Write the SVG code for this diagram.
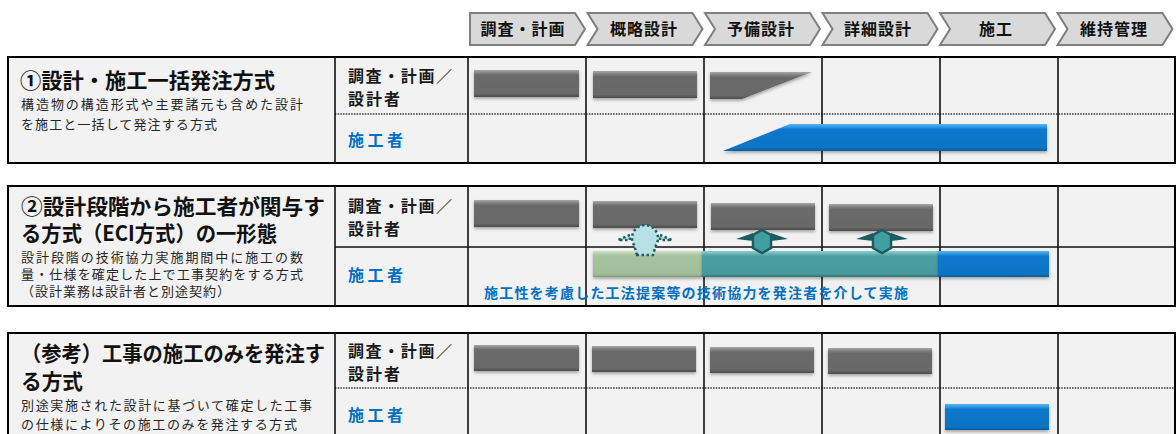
<svg xmlns="http://www.w3.org/2000/svg" width="1176" height="434" viewBox="0 0 1176 434">
<defs>
<style>
.jp{font-family:"Noto Sans CJK JP","Noto Sans CJK SC",sans-serif}
.hd{font-size:16px;font-weight:bold;fill:#111;letter-spacing:1px}
.tt{font-size:21px;font-weight:bold;fill:#111}
.ds{font-size:13px;fill:#262626}
.lb{font-size:16px;font-weight:bold;fill:#1a1a1a}
.bl{font-size:16px;font-weight:bold;fill:#0070c0}
.note{font-size:14px;font-weight:bold;fill:#0070c0}
.chev{fill:#d9d9d9;stroke:#7f7f7f;stroke-width:2}
.box{fill:#f2f2f2;stroke:#000;stroke-width:2}
.vl{stroke:#111;stroke-width:1.6}
.dot{stroke:#333;stroke-width:1.4;stroke-dasharray:1.5 1.2}
.sol{stroke:#111;stroke-width:1.6}
.gray{fill:url(#gGray);filter:url(#sh)}
.blue{fill:url(#gBlue);filter:url(#sh)}
.teal{fill:url(#gTeal);filter:url(#sh)}
.green{fill:url(#gGreen);filter:url(#sh)}
.arw{fill:#1f5c60}
.hex{fill:#3f9fa3;stroke:#1f5c60;stroke-width:2.5}
.dhex{fill:#b8e0e5;stroke:#1f5c60;stroke-width:2.5;stroke-dasharray:2.5 2.5}
</style>
<linearGradient id="gGray" x1="0" y1="0" x2="0" y2="1">
<stop offset="0" stop-color="#a8a8a8"/><stop offset="0.13" stop-color="#7a7a7a"/><stop offset="0.2" stop-color="#6b6b6b"/><stop offset="0.88" stop-color="#686868"/><stop offset="1" stop-color="#4a4a4a"/>
</linearGradient>
<linearGradient id="gBlue" x1="0" y1="0" x2="0" y2="1">
<stop offset="0" stop-color="#5ab4f0"/><stop offset="0.13" stop-color="#2a92e0"/><stop offset="0.2" stop-color="#0a78cc"/><stop offset="0.88" stop-color="#0874c6"/><stop offset="1" stop-color="#055a9e"/>
</linearGradient>
<linearGradient id="gTeal" x1="0" y1="0" x2="0" y2="1">
<stop offset="0" stop-color="#8fd0d2"/><stop offset="0.13" stop-color="#5fb0b3"/><stop offset="0.2" stop-color="#4a9ea1"/><stop offset="0.88" stop-color="#46999c"/><stop offset="1" stop-color="#2f7477"/>
</linearGradient>
<linearGradient id="gGreen" x1="0" y1="0" x2="0" y2="1">
<stop offset="0" stop-color="#d0e2c8"/><stop offset="0.13" stop-color="#b2cbaa"/><stop offset="0.2" stop-color="#a6c19d"/><stop offset="0.88" stop-color="#a2bd99"/><stop offset="1" stop-color="#839d7b"/>
</linearGradient>
<filter id="sh" x="-5%" y="-20%" width="110%" height="150%">
<feDropShadow dx="0" dy="2" stdDeviation="1.5" flood-color="#000" flood-opacity="0.3"/>
</filter>
</defs>
<rect width="1176" height="434" fill="#fff"/>

<g id="header" class="jp">
<g id="h1"><path class="chev" d="M470,13 H575 L585,29 L575,45 H470 Z"/><text class="hd" x="523" y="35" text-anchor="middle">調査・計画</text></g>
<g id="h2"><path class="chev" d="M587.5,13 H692.5 L702.5,29 L692.5,45 H587.5 L597.5,29 Z"/><text class="hd" x="644" y="35" text-anchor="middle">概略設計</text></g>
<g id="h3"><path class="chev" d="M705,13 H810 L820,29 L810,45 H705 L715,29 Z"/><text class="hd" x="761" y="35" text-anchor="middle">予備設計</text></g>
<g id="h4"><path class="chev" d="M822.5,13 H927.5 L937.5,29 L927.5,45 H822.5 L832.5,29 Z"/><text class="hd" x="878" y="35" text-anchor="middle">詳細設計</text></g>
<g id="h5"><path class="chev" d="M940,13 H1045 L1055,29 L1045,45 H940 L950,29 Z"/><text class="hd" x="996" y="35" text-anchor="middle">施工</text></g>
<g id="h6"><path class="chev" d="M1057.5,13 H1162.5 L1172.5,29 L1162.5,45 H1057.5 L1067.5,29 Z"/><text class="hd" x="1114" y="35" text-anchor="middle">維持管理</text></g>
</g>

<!-- Section 1 -->
<g id="sec1" class="jp">
<rect class="box" x="8" y="57" width="1167" height="106"/>
<line class="dot" x1="335" y1="114" x2="1175" y2="114"/>
<line class="vl" x1="335" y1="57" x2="335" y2="163"/>
<line class="vl" x1="468" y1="57" x2="468" y2="163"/>
<line class="vl" x1="586" y1="57" x2="586" y2="163"/>
<line class="vl" x1="704" y1="57" x2="704" y2="163"/>
<line class="vl" x1="822" y1="57" x2="822" y2="163"/>
<line class="vl" x1="940" y1="57" x2="940" y2="163"/>
<line class="vl" x1="1058" y1="57" x2="1058" y2="163"/>
<text class="tt" x="20" y="88" textLength="255" lengthAdjust="spacingAndGlyphs">①設計・施工一括発注方式</text>
<text class="ds"><tspan x="21" y="109" textLength="282" lengthAdjust="spacing">構造物の構造形式や主要諸元も含めた設計</tspan><tspan x="21" y="129" textLength="196" lengthAdjust="spacing">を施工と一括して発注する方式</tspan></text>
<text class="lb"><tspan x="348" y="82" textLength="104" lengthAdjust="spacing">調査・計画／</tspan><tspan x="348" y="105" textLength="52" lengthAdjust="spacing">設計者</tspan></text>
<text class="bl" x="348" y="146" textLength="55" lengthAdjust="spacing">施工者</text>
<rect class="gray" x="474" y="70" width="105" height="27"/>
<rect class="gray" x="593" y="71" width="104" height="27"/>
<polygon class="gray" points="710,72 812,72 742,99 710,99"/>
<polygon class="blue" points="723,151 790,124 1047,124 1047,151"/>
</g>

<!-- Section 2 -->
<g id="sec2" class="jp">
<rect class="box" x="8" y="186" width="1167" height="120"/>
<line class="sol" x1="335" y1="247" x2="1175" y2="247"/>
<line class="vl" x1="335" y1="186" x2="335" y2="306"/>
<line class="vl" x1="468" y1="186" x2="468" y2="306"/>
<line class="vl" x1="586" y1="186" x2="586" y2="306"/>
<line class="vl" x1="704" y1="186" x2="704" y2="306"/>
<line class="vl" x1="822" y1="186" x2="822" y2="306"/>
<line class="vl" x1="940" y1="186" x2="940" y2="306"/>
<line class="vl" x1="1058" y1="186" x2="1058" y2="306"/>
<text class="tt"><tspan x="21" y="213.5" textLength="304" lengthAdjust="spacingAndGlyphs">②設計段階から施工者が関与す</tspan><tspan x="21" y="240.5" textLength="256" lengthAdjust="spacingAndGlyphs">る方式（ECI方式）の一形態</tspan></text>
<text class="ds"><tspan x="21" y="262" textLength="282" lengthAdjust="spacing">設計段階の技術協力実施期間中に施工の数</tspan><tspan x="21" y="279" textLength="282" lengthAdjust="spacing">量・仕様を確定した上で工事契約をする方式</tspan><tspan x="21" y="296" textLength="209" lengthAdjust="spacing">（設計業務は設計者と別途契約）</tspan></text>
<text class="lb"><tspan x="348" y="212" textLength="104" lengthAdjust="spacing">調査・計画／</tspan><tspan x="348" y="235" textLength="52" lengthAdjust="spacing">設計者</tspan></text>
<text class="bl" x="348" y="281" textLength="55" lengthAdjust="spacing">施工者</text>
<rect class="gray" x="474" y="200" width="105" height="27"/>
<rect class="gray" x="593" y="201" width="104" height="27"/>
<rect class="gray" x="711" y="203" width="104" height="27"/>
<rect class="gray" x="829" y="204" width="104" height="27"/>
<rect class="green" x="593" y="251" width="109" height="26"/>
<rect class="teal" x="702" y="251" width="236" height="26"/>
<rect class="blue" x="938" y="251" width="111" height="26"/>
<text class="note" x="484" y="298" textLength="424" lengthAdjust="spacing">施工性を考慮した工法提案等の技術協力を発注者を介して実施</text>
</g>

<!-- Section 3 -->
<g id="sec3" class="jp">
<rect class="box" x="8" y="333" width="1167" height="110"/>
<line class="dot" x1="335" y1="388" x2="1175" y2="388"/>
<line class="vl" x1="335" y1="333" x2="335" y2="434"/>
<line class="vl" x1="468" y1="333" x2="468" y2="434"/>
<line class="vl" x1="586" y1="333" x2="586" y2="434"/>
<line class="vl" x1="704" y1="333" x2="704" y2="434"/>
<line class="vl" x1="822" y1="333" x2="822" y2="434"/>
<line class="vl" x1="940" y1="333" x2="940" y2="434"/>
<line class="vl" x1="1058" y1="333" x2="1058" y2="434"/>
<text class="tt"><tspan x="21" y="361" textLength="304" lengthAdjust="spacingAndGlyphs">（参考）工事の施工のみを発注す</tspan><tspan x="21" y="389" textLength="62" lengthAdjust="spacingAndGlyphs">る方式</tspan></text>
<text class="ds"><tspan x="21" y="410" textLength="291" lengthAdjust="spacing">別途実施された設計に基づいて確定した工事</tspan><tspan x="21" y="429" textLength="276" lengthAdjust="spacing">の仕様によりその施工のみを発注する方式</tspan></text>
<text class="lb"><tspan x="348" y="357" textLength="104" lengthAdjust="spacing">調査・計画／</tspan><tspan x="348" y="380" textLength="52" lengthAdjust="spacing">設計者</tspan></text>
<text class="bl" x="348" y="421" textLength="55" lengthAdjust="spacing">施工者</text>
<rect class="gray" x="474" y="345" width="105" height="26"/>
<rect class="gray" x="592" y="346" width="104" height="26"/>
<rect class="gray" x="710" y="347" width="104" height="26"/>
<rect class="gray" x="828" y="348" width="104" height="26"/>
<rect class="blue" x="945" y="404" width="104" height="26"/>
</g>

<g id="connectors">
<g id="arrowDotted" transform="translate(645,0)">
<polygon class="dhex" points="-15,235 -27,240 -15,240"/>
<polygon class="dhex" points="15,235 27,240 15,240"/>
<path class="dhex" d="M-8,255 L-11,245 A13,13 0 1 1 11,245 L8,255 Z"/>
</g>
<g id="arrow1" transform="translate(762,0)">
<polygon class="arw" points="-9,233 -26,239 -9,241"/>
<polygon class="arw" points="9,233 26,239 9,241"/>
<polygon class="hex" points="0,230 9,235 9,248 0,253 -9,248 -9,235"/>
</g>
<g id="arrow2" transform="translate(882,0)">
<polygon class="arw" points="-9,233 -26,239 -9,241"/>
<polygon class="arw" points="9,233 26,239 9,241"/>
<polygon class="hex" points="0,230 9,235 9,248 0,253 -9,248 -9,235"/>
</g>
</g>
</svg>
